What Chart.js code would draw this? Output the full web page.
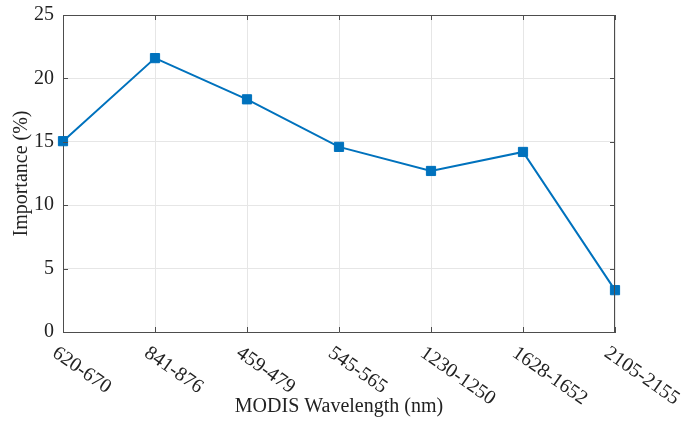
<!DOCTYPE html>
<html lang="en">
<head>
    <meta charset="UTF-8">
    <title>MODIS Wavelength Importance</title>
    <script src="https://cdn.jsdelivr.net/npm/chart.js"></script>
    <style>
        html, body { margin: 0; padding: 0; background: #fff; }
        #wrap { width: 682px; height: 423px; }
    </style>
</head>
<body>
    <div id="wrap"><canvas id="importanceChart"></canvas></div>

    <script>
        // Data
        const bands = ['620-670', '841-876', '459-479', '545-565', '1230-1250', '1628-1652', '2105-2155'];
        const importance = [15.05, 21.6, 18.35, 14.6, 12.7, 14.2, 3.3];
        const yTicks = [0, 5, 10, 15, 20, 25];

        const fontFamily = '"Liberation Serif", "Times New Roman", serif';
        const lineColor = '#0072BD';
        const axisColor = '#4d4d4d';

        // Draws the box, inward ticks and slanted category labels
        const matlabAxes = {
            id: 'matlabAxes',
            afterDraw(chart) {
                const ctx = chart.ctx;
                const area = chart.chartArea;
                const xs = chart.scales.x;
                const ys = chart.scales.y;
                ctx.save();
                ctx.strokeStyle = axisColor;
                ctx.lineWidth = 1;
                ctx.beginPath();
                ctx.moveTo(area.left, area.top + 0.5);
                ctx.lineTo(area.right, area.top + 0.5);
                ctx.moveTo(area.right - 0.5, area.top);
                ctx.lineTo(area.right - 0.5, area.bottom);
                // inward ticks
                bands.forEach((b, i) => {
                    const x = Math.round(xs.getPixelForValue(i)) + 0.5;
                    ctx.moveTo(x, area.bottom);
                    ctx.lineTo(x, area.bottom - 5);
                    ctx.moveTo(x, area.top);
                    ctx.lineTo(x, area.top + 5);
                });
                yTicks.forEach(v => {
                    const y = Math.round(ys.getPixelForValue(v)) + 0.5;
                    ctx.moveTo(area.left, y);
                    ctx.lineTo(area.left + 5, y);
                    ctx.moveTo(area.right, y);
                    ctx.lineTo(area.right - 5, y);
                });
                ctx.stroke();

                // slanted x labels
                ctx.fillStyle = '#222';
                ctx.font = '20px ' + fontFamily;
                ctx.textAlign = 'left';
                ctx.textBaseline = 'top';
                bands.forEach((b, i) => {
                    const x = xs.getPixelForValue(i);
                    ctx.save();
                    ctx.translate(x - 3, area.bottom + 11);
                    ctx.rotate(35 * Math.PI / 180);
                    ctx.fillText(b, 0, 0);
                    ctx.restore();
                });
                ctx.restore();
            }
        };

        new Chart(document.getElementById('importanceChart'), {
            type: 'line',
            data: {
                labels: bands,
                datasets: [{
                    label: 'Importance',
                    data: importance,
                    borderColor: lineColor,
                    backgroundColor: lineColor,
                    borderWidth: 2,
                    pointStyle: 'rect',
                    pointRadius: 6.5,
                    pointBorderWidth: 1,
                    tension: 0
                }]
            },
            options: {
                responsive: true,
                maintainAspectRatio: false,
                animation: false,
                layout: { padding: { top: 15, right: 67, left: 0, bottom: 0 } },
                plugins: {
                    legend: { display: false },
                    tooltip: { enabled: false }
                },
                scales: {
                    x: {
                        offset: false,
                        afterFit: s => { s.height = 91; s.paddingLeft = 0; s.paddingRight = 0; },
                        grid: { color: '#e6e6e6', drawTicks: false },
                        border: { color: axisColor },
                        ticks: { display: false },
                        title: {
                            display: true,
                            text: 'MODIS Wavelength (nm)',
                            color: '#222',
                            font: { family: fontFamily, size: 20 },
                            padding: { top: 0, bottom: 4 }
                        }
                    },
                    y: {
                        min: 0,
                        max: 25,
                        afterFit: s => { s.width = 63; s.paddingTop = 0; s.paddingBottom = 0; },
                        afterBuildTicks: s => { s.ticks = yTicks.map(v => ({ value: v })); },
                        grid: { color: '#e6e6e6', drawTicks: false },
                        border: { color: axisColor },
                        ticks: {
                            color: '#222',
                            padding: 9,
                            font: { family: fontFamily, size: 20 }
                        },
                        title: {
                            display: true,
                            text: 'Importance (%)',
                            color: '#222',
                            font: { family: fontFamily, size: 20 },
                            padding: { top: 10, bottom: 0 }
                        }
                    }
                }
            },
            plugins: [matlabAxes]
        });
    </script>
</body>
</html>
